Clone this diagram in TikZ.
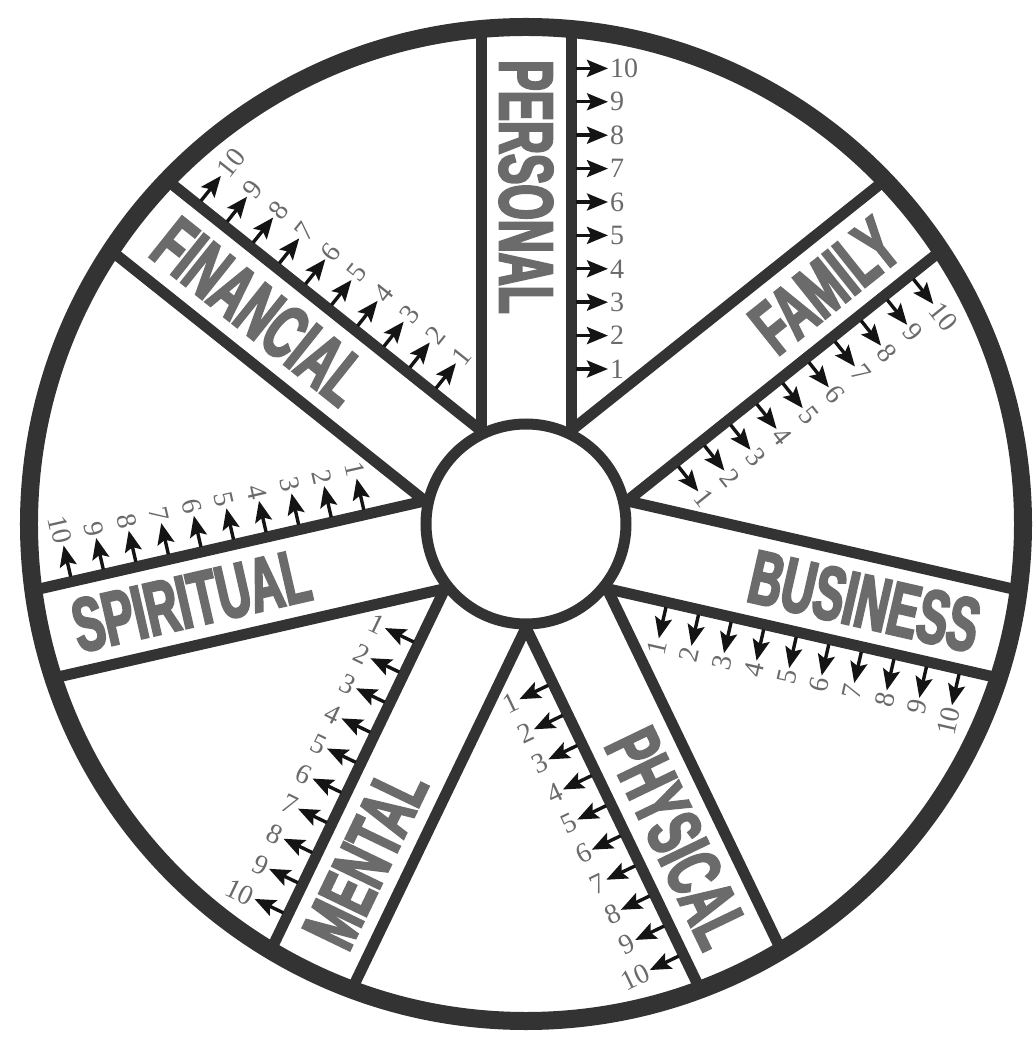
\documentclass[tikz,border=0pt]{standalone}
\usepackage{fontspec}
\usetikzlibrary{arrows.meta}
\setmainfont{Liberation Serif}
\newfontfamily\spokefont[FakeStretch=0.6,FakeBold=3]{Liberation Sans Bold}
\definecolor{rimgray}{HTML}{333333}
\definecolor{labelgray}{HTML}{6B6B6B}
\definecolor{numgray}{HTML}{6A6A6A}

\begin{document}
\begin{tikzpicture}[
    x=1pt, y=1pt,
    rim/.style={draw=rimgray, line width=11pt},
    spokelabel/.style={inner sep=0pt, text=labelgray,
                       font=\spokefont\fontsize{76}{76}\selectfont},
    ticknum/.style={inner sep=1pt, text=numgray, font=\fontsize{28}{28}\selectfont},
    tick/.style={-{Stealth[length=21pt,width=17pt,inset=4pt]}, line width=3.4pt, draw=black!92},
  ]
  \useasboundingbox (-526,-514) rectangle (508,524);
  % spokes: angle / label / label rotation / label anchor / number rotation / number anchor
  \foreach \a/\name/\lr/\la/\nr/\na [count=\i] in {
      90/PERSONAL/-90/west/0/west,
      38.57/FAMILY/38.57/east/-51.43/west,
      -12.86/BUSINESS/-12.86/east/77.14/east,
      -64.29/PHYSICAL/-64.29/east/25.71/east,
      -115.71/MENTAL/64.29/west/-25.71/east,
      -167.14/SPIRITUAL/12.86/west/-77.14/east,
      141.43/FINANCIAL/-38.57/west/51.43/west} {
    \begin{scope}[rotate=\a]
      \draw[rim] (0,45) -- (500,45) (0,-45) -- (500,-45);
      \node[spokelabel, rotate=\lr, anchor=\la] (lbl\i) at (464,0) {\name};
      \foreach \k in {1,...,10} {
        \draw[tick] (121.6+33.4*\k,-50) -- (121.6+33.4*\k,-82);
        \node[ticknum, rotate=\nr, anchor=\na] (num\i-\k) at (121.6+33.4*\k,-83) {\k};
      }
    \end{scope}
  }
  % hub and outer rim
  \draw[rim, fill=white] (0,0) circle (100);
  \draw[draw=rimgray, line width=18pt] (0,0) circle (497);
\end{tikzpicture}
\end{document}
